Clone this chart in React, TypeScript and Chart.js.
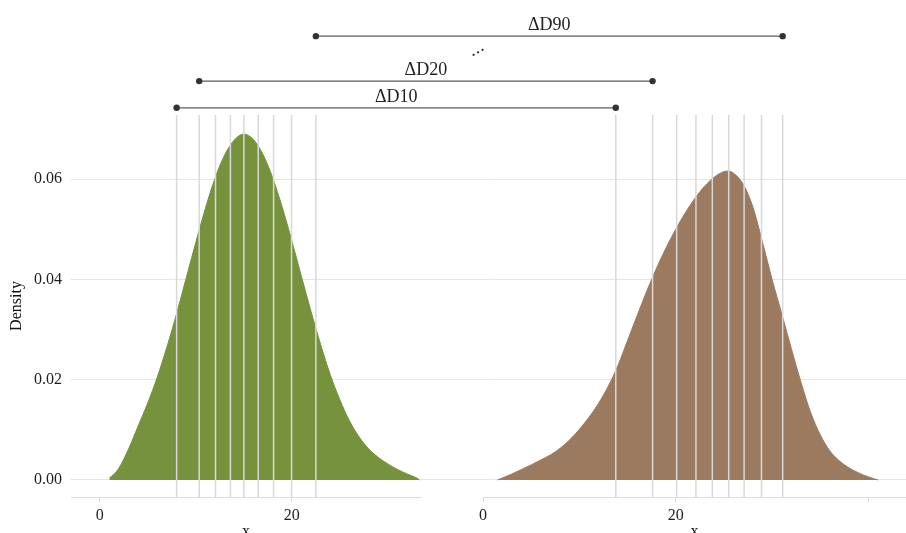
import React, { useEffect, useRef } from 'react';
import { Chart, registerables } from 'chart.js';

Chart.register(...registerables);

const FONT = '"Liberation Serif", "Times New Roman", serif';

// Left panel density (green)
const greenX = [1.0, 1.5, 2, 3, 4, 5, 6, 7, 8, 9, 10, 11, 12, 13, 14, 15, 16, 17, 18, 19, 20, 21, 22, 23, 24, 25, 26, 27, 28, 29, 30, 31, 32, 33, 33.3];
const greenY = [0.0004, 0.0012, 0.0024, 0.0062, 0.0108, 0.0154, 0.0206, 0.0266, 0.0332, 0.0403, 0.0474, 0.0542, 0.0602, 0.0648, 0.0678, 0.0690, 0.0679, 0.0649, 0.0603, 0.0544, 0.0477, 0.0406, 0.0336, 0.0270, 0.0210, 0.0160, 0.0118, 0.0086, 0.0062, 0.0045, 0.0032, 0.0021, 0.0012, 0.0004, 0.0];

// Right panel density (brown)
const brownX = [1.5, 2, 3, 4, 5, 6, 7, 8, 9, 10, 11, 12, 13, 14, 15, 16, 17, 18, 19, 20, 21, 22, 23, 24, 25, 25.5, 26, 27, 28, 29, 30, 31, 32, 33, 34, 35, 36, 37, 38, 39, 40, 41];
const brownY = [0.0, 0.0004, 0.0012, 0.0021, 0.0030, 0.0040, 0.0050, 0.0063, 0.0080, 0.0101, 0.0125, 0.0153, 0.0187, 0.0228, 0.0278, 0.0328, 0.0377, 0.0422, 0.0463, 0.0500, 0.0533, 0.0562, 0.0586, 0.0604, 0.0615, 0.0616, 0.0612, 0.0590, 0.0545, 0.0475, 0.0400, 0.0332, 0.0262, 0.0195, 0.0135, 0.0090, 0.0058, 0.0038, 0.0024, 0.0014, 0.0006, 0.0];

// Deciles D10..D90
const leftDeciles = [8.0, 10.35, 12.05, 13.6, 15.0, 16.5, 18.1, 19.97, 22.5];
const rightDeciles = [13.78, 17.6, 20.1, 22.1, 23.8, 25.5, 27.1, 28.9, 31.1];

// Axes
const leftTicks = [0, 20];
const leftTickLabels = ['0', '20'];
const rightTicks = [0, 20, 40];
const rightTickLabels = ['0', '20', ''];
const yTicks = [0, 0.02, 0.04, 0.06];
const yRange = [-0.0034, 0.0728];
const leftRange = [-3, 33.45];
const rightRange = [0, 43.9];

// Delta annotations
const deltaLabels = ['ΔD10', 'ΔD20', 'ΔD90'];
const deltaDecileIndex = [0, 1, 8];
const deltaLevels = [0.07424, 0.07956, 0.08853];
const ellipsisLevel = 0.0853;
const ellipsisDecileIndex = 4;

const deltaPlugin = {
  id: 'deltaSegments',
  afterDraw(chart: any) {
    const { ctx } = chart;
    const xl = chart.scales.xL;
    const xr = chart.scales.xR;
    const y = chart.scales.y;
    ctx.save();
    deltaLabels.forEach((label, i) => {
      const k = deltaDecileIndex[i];
      const x1 = xl.getPixelForValue(leftDeciles[k]);
      const x2 = xr.getPixelForValue(rightDeciles[k]);
      const py = y.getPixelForValue(deltaLevels[i]);
      ctx.strokeStyle = '#5a5a5a';
      ctx.lineWidth = 1.2;
      ctx.beginPath();
      ctx.moveTo(x1, py);
      ctx.lineTo(x2, py);
      ctx.stroke();
      ctx.fillStyle = '#333333';
      [x1, x2].forEach((px) => {
        ctx.beginPath();
        ctx.arc(px, py, 3.2, 0, Math.PI * 2);
        ctx.fill();
      });
      ctx.font = `18px ${FONT}`;
      ctx.textAlign = 'center';
      ctx.textBaseline = 'alphabetic';
      ctx.fillStyle = '#222222';
      ctx.fillText(label, (x1 + x2) / 2, py - 6);
    });
    const ex = (xl.getPixelForValue(leftDeciles[ellipsisDecileIndex]) + xr.getPixelForValue(rightDeciles[ellipsisDecileIndex])) / 2;
    const ey = y.getPixelForValue(ellipsisLevel);
    ctx.fillStyle = '#222222';
    [-1, 0, 1].forEach((d) => {
      ctx.beginPath();
      ctx.arc(ex + d * 4.5, ey - d * 2.5, 1.1, 0, Math.PI * 2);
      ctx.fill();
    });
    ctx.restore();
  },
};

function toPoints(xs: number[], ys: number[]) {
  return xs.map((x, i) => ({ x, y: ys[i] }));
}

function decileSets(vals: number[], axis: string) {
  return vals.map((v) => ({
    type: 'line',
    xAxisID: axis,
    yAxisID: 'y',
    data: [
      { x: v, y: yRange[0] },
      { x: v, y: yRange[1] },
    ],
    borderColor: '#d8d8d8',
    borderWidth: 1.5,
    pointRadius: 0,
    fill: false,
    tension: 0,
    order: 1,
  }));
}

export default function App() {
  const ref = useRef<HTMLCanvasElement | null>(null);

  useEffect(() => {
    if (!ref.current) return;
    const tickFont = { family: FONT, size: 16 };
    const chart = new Chart(ref.current, {
      type: 'line',
      data: {
        datasets: [
          ...decileSets(leftDeciles, 'xL'),
          ...decileSets(rightDeciles, 'xR'),
          {
            type: 'line',
            xAxisID: 'xL',
            yAxisID: 'y',
            data: toPoints(greenX, greenY),
            borderColor: '#76923c',
            backgroundColor: '#76923c',
            borderWidth: 1,
            pointRadius: 0,
            fill: 'origin',
            cubicInterpolationMode: 'monotone',
            order: 2,
          },
          {
            type: 'line',
            xAxisID: 'xR',
            yAxisID: 'y',
            data: toPoints(brownX, brownY),
            borderColor: '#9b7a5f',
            backgroundColor: '#9b7a5f',
            borderWidth: 1,
            pointRadius: 0,
            fill: 'origin',
            cubicInterpolationMode: 'monotone',
            order: 2,
          },
        ] as any,
      },
      options: {
        responsive: false,
        animation: false,
        devicePixelRatio: 1,
        events: [],
        layout: { padding: { top: 115, left: 0, right: 0, bottom: 0 } },
        plugins: {
          legend: { display: false },
          tooltip: { enabled: false },
        },
        scales: {
          y: {
            type: 'linear',
            position: 'left',
            min: yRange[0],
            max: yRange[1],
            afterBuildTicks: (s: any) => {
              s.ticks = yTicks.map((v) => ({ value: v }));
            },
            afterFit: (s: any) => {
              s.width = 71;
            },
            ticks: {
              font: tickFont,
              color: '#1e1e1e',
              padding: 9,
              callback: (v: any) => Number(v).toFixed(2),
            },
            grid: { color: '#e4e4e4', lineWidth: 1, drawTicks: false },
            border: { display: false },
            title: {
              display: true,
              text: 'Density',
              font: { family: FONT, size: 16 },
              color: '#111111',
              padding: { top: 7, bottom: 0 },
            },
          },
          xL: {
            type: 'linear',
            position: 'bottom',
            stack: 'panels',
            stackWeight: 350,
            min: leftRange[0],
            max: leftRange[1],
            afterBuildTicks: (s: any) => {
              s.ticks = leftTicks.map((v) => ({ value: v }));
            },
            afterFit: (s: any) => {
              s.height = 52;
            },
            ticks: {
              font: tickFont,
              color: '#1e1e1e',
              padding: 4,
              maxRotation: 0,
              callback: (_v: any, i: number) => leftTickLabels[i],
            },
            grid: { drawOnChartArea: false, drawTicks: true, tickLength: 5, color: '#d9d9d9' },
            border: { display: true, color: '#dddddd', width: 1 },
            title: {
              display: true,
              text: 'x',
              font: { family: FONT, size: 16 },
              color: '#111111',
              padding: { top: 0, bottom: 8 },
            },
          },
          xGap: {
            type: 'linear',
            position: 'bottom',
            stack: 'panels',
            stackWeight: 62,
            afterFit: (s: any) => {
              s.height = 52;
            },
            ticks: { display: false },
            grid: { display: false },
            border: { display: false },
          },
          xR: {
            type: 'linear',
            position: 'bottom',
            stack: 'panels',
            stackWeight: 423,
            min: rightRange[0],
            max: rightRange[1],
            afterBuildTicks: (s: any) => {
              s.ticks = rightTicks.map((v) => ({ value: v }));
            },
            afterFit: (s: any) => {
              s.height = 52;
            },
            ticks: {
              font: tickFont,
              color: '#1e1e1e',
              padding: 4,
              maxRotation: 0,
              callback: (_v: any, i: number) => rightTickLabels[i],
            },
            grid: { drawOnChartArea: false, drawTicks: true, tickLength: 5, color: '#d9d9d9' },
            border: { display: true, color: '#dddddd', width: 1 },
            title: {
              display: true,
              text: 'x',
              font: { family: FONT, size: 16 },
              color: '#111111',
              padding: { top: 0, bottom: 8 },
            },
          },
        },
      } as any,
      plugins: [deltaPlugin as any],
    });
    return () => chart.destroy();
  }, []);

  return (
    <div
      style={{
        position: 'fixed',
        left: 0,
        top: 0,
        width: 906,
        height: 533,
        overflow: 'hidden',
        background: '#ffffff',
      }}
    >
      <canvas ref={ref} width={906} height={549} style={{ display: 'block', width: 906, height: 549 }} />
    </div>
  );
}
